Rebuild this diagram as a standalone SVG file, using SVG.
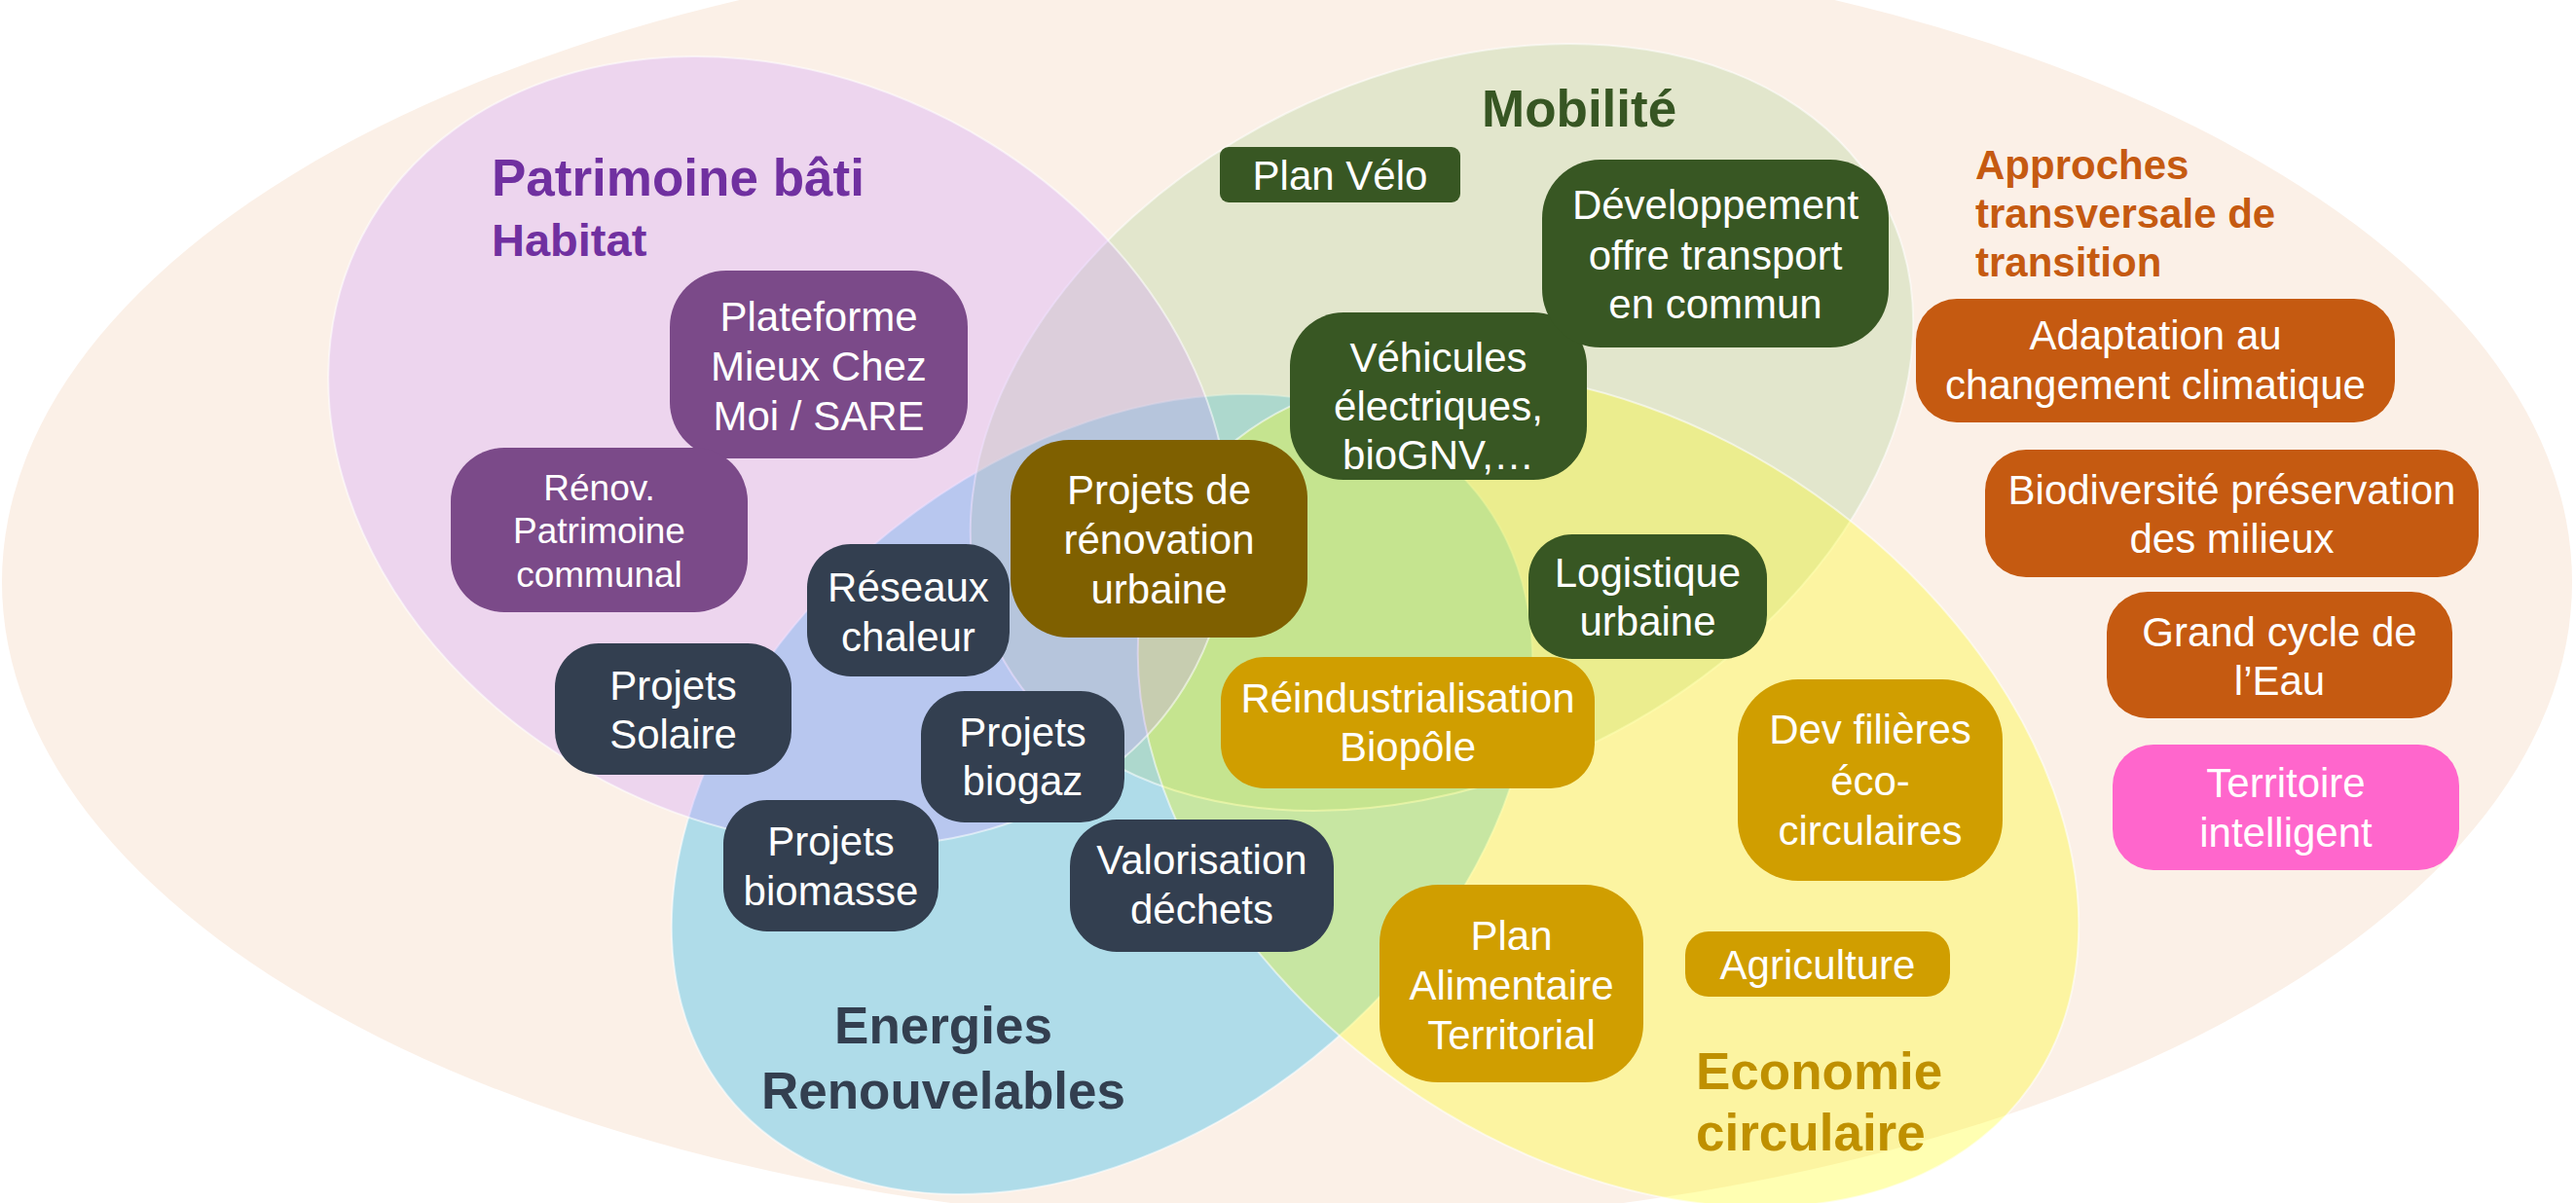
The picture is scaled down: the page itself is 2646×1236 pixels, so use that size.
<svg xmlns="http://www.w3.org/2000/svg" width="2646" height="1236" viewBox="0 0 2646 1236">
<style>
text{font-family:"Liberation Sans",Arial,Helvetica,sans-serif}
.n text{fill:#fff;font-size:42px;text-anchor:middle}
.purple rect{fill:#7B4A89}
.slate rect{fill:#333F50}
.dgreen rect{fill:#385723}
.brown rect{fill:#7F6000}
.gold rect{fill:#D09E00}
.orange rect{fill:#C55A11}
.pink rect{fill:#FF66CC}
.zone{stroke:#fff;stroke-opacity:.55;stroke-width:2;fill-opacity:.3}
.h{font-weight:bold;font-size:53px}
</style>
<rect width="2646" height="1236" fill="#fff"/>
<g id="zone-transversal"><ellipse cx="1322" cy="598" rx="1320" ry="661" fill="#FBF0E7"/></g>
<g id="zone-energies"><ellipse class="zone" cx="1132" cy="816" rx="494" ry="347" transform="rotate(-38.8 1132 816)" fill="#00B0F0"/></g>
<g id="zone-mobilite"><ellipse class="zone" cx="1481" cy="439" rx="510" ry="360" transform="rotate(-26.3 1481 439)" fill="#A9D18E"/></g>
<g id="zone-economie"><ellipse class="zone" cx="1652" cy="811" rx="530" ry="370" transform="rotate(35 1652 811)" fill="#FFFF00"/></g>
<g id="zone-patrimoine"><ellipse class="zone" cx="800" cy="464" rx="482" ry="383" transform="rotate(27.4 800 464)" fill="#CC99FF"/></g>

<g id="labels">
<text class="h" x="505" y="201" fill="#7030A0">Patrimoine bâti</text>
<text x="505" y="263" fill="#7030A0" font-weight="bold" font-size="47">Habitat</text>
<text class="h" x="1522" y="130" fill="#375623">Mobilité</text>
<text x="2029" y="184" fill="#C55A11" font-weight="bold" font-size="42">Approches</text>
<text x="2029" y="234" fill="#C55A11" font-weight="bold" font-size="42">transversale de</text>
<text x="2029" y="284" fill="#C55A11" font-weight="bold" font-size="42">transition</text>
<text class="h" x="969" y="1072" fill="#333F50" text-anchor="middle">Energies</text>
<text class="h" x="969" y="1139" fill="#333F50" text-anchor="middle">Renouvelables</text>
<text class="h" x="1742" y="1119" fill="#BF9000">Economie</text>
<text class="h" x="1742" y="1182" fill="#BF9000">circulaire</text>
</g>

<g id="connectors"></g>

<g id="n-plateforme" class="n purple"><rect x="688" y="278" width="306" height="193" rx="58"/><text><tspan x="841" y="340">Plateforme</tspan><tspan x="841" y="391">Mieux Chez</tspan><tspan x="841" y="442">Moi / SARE</tspan></text></g>
<g id="n-renov" class="n purple"><rect x="463" y="460" width="305" height="169" rx="55"/><text font-size="37" style="font-size:37px"><tspan x="615.5" y="514">Rénov.</tspan><tspan x="615.5" y="558">Patrimoine</tspan><tspan x="615.5" y="603">communal</tspan></text></g>
<g id="n-reseaux" class="n slate"><rect x="829" y="559" width="208" height="136" rx="45"/><text><tspan x="933" y="618">Réseaux</tspan><tspan x="933" y="669">chaleur</tspan></text></g>
<g id="n-solaire" class="n slate"><rect x="570" y="661" width="243" height="135" rx="45"/><text><tspan x="691.5" y="719">Projets</tspan><tspan x="691.5" y="769">Solaire</tspan></text></g>
<g id="n-biogaz" class="n slate"><rect x="946" y="710" width="209" height="135" rx="45"/><text><tspan x="1050.5" y="767">Projets</tspan><tspan x="1050.5" y="817">biogaz</tspan></text></g>
<g id="n-biomasse" class="n slate"><rect x="743" y="822" width="221" height="135" rx="45"/><text><tspan x="853.5" y="879">Projets</tspan><tspan x="853.5" y="930">biomasse</tspan></text></g>
<g id="n-valorisation" class="n slate"><rect x="1099" y="842" width="271" height="136" rx="48"/><text><tspan x="1234.5" y="898">Valorisation</tspan><tspan x="1234.5" y="949">déchets</tspan></text></g>
<g id="n-renovation-urbaine" class="n brown"><rect x="1038" y="452" width="305" height="203" rx="60"/><text><tspan x="1190.5" y="518">Projets de</tspan><tspan x="1190.5" y="569">rénovation</tspan><tspan x="1190.5" y="620">urbaine</tspan></text></g>
<g id="n-plan-velo" class="n dgreen"><rect x="1253" y="151" width="247" height="57" rx="9"/><text x="1376.5" y="195">Plan Vélo</text></g>
<g id="n-vehicules" class="n dgreen"><rect x="1325" y="321" width="305" height="172" rx="55"/><text><tspan x="1477.5" y="382">Véhicules</tspan><tspan x="1477.5" y="432">électriques,</tspan><tspan x="1477.5" y="482">bioGNV,…</tspan></text></g>
<g id="n-transport" class="n dgreen"><rect x="1584" y="164" width="356" height="193" rx="60"/><text><tspan x="1762" y="225">Développement</tspan><tspan x="1762" y="277">offre transport</tspan><tspan x="1762" y="327">en commun</tspan></text></g>
<g id="n-logistique" class="n dgreen"><rect x="1570" y="549" width="245" height="128" rx="45"/><text><tspan x="1692.5" y="603">Logistique</tspan><tspan x="1692.5" y="653">urbaine</tspan></text></g>
<g id="n-reindustrialisation" class="n gold"><rect x="1254" y="675" width="384" height="135" rx="45"/><text><tspan x="1446" y="732">Réindustrialisation</tspan><tspan x="1446" y="782">Biopôle</tspan></text></g>
<g id="n-alimentaire" class="n gold"><rect x="1417" y="909" width="271" height="203" rx="60"/><text><tspan x="1552.5" y="976">Plan</tspan><tspan x="1552.5" y="1027">Alimentaire</tspan><tspan x="1552.5" y="1078">Territorial</tspan></text></g>
<g id="n-agriculture" class="n gold"><rect x="1731" y="957" width="272" height="67" rx="24"/><text x="1867" y="1006">Agriculture</text></g>
<g id="n-filieres" class="n gold"><rect x="1785" y="698" width="272" height="207" rx="62"/><text><tspan x="1921" y="764">Dev filières</tspan><tspan x="1921" y="817">éco-</tspan><tspan x="1921" y="868">circulaires</tspan></text></g>
<g id="n-adaptation" class="n orange"><rect x="1968" y="307" width="492" height="127" rx="42"/><text><tspan x="2214" y="359">Adaptation au</tspan><tspan x="2214" y="410">changement climatique</tspan></text></g>
<g id="n-biodiversite" class="n orange"><rect x="2039" y="462" width="507" height="131" rx="42"/><text><tspan x="2292.5" y="518">Biodiversité préservation</tspan><tspan x="2292.5" y="568">des milieux</tspan></text></g>
<g id="n-eau" class="n orange"><rect x="2164" y="608" width="355" height="130" rx="42"/><text><tspan x="2341.5" y="664">Grand cycle de</tspan><tspan x="2341.5" y="714">l’Eau</tspan></text></g>
<g id="n-territoire" class="n pink"><rect x="2170" y="765" width="356" height="129" rx="42"/><text><tspan x="2348" y="819">Territoire</tspan><tspan x="2348" y="870">intelligent</tspan></text></g>
</svg>
